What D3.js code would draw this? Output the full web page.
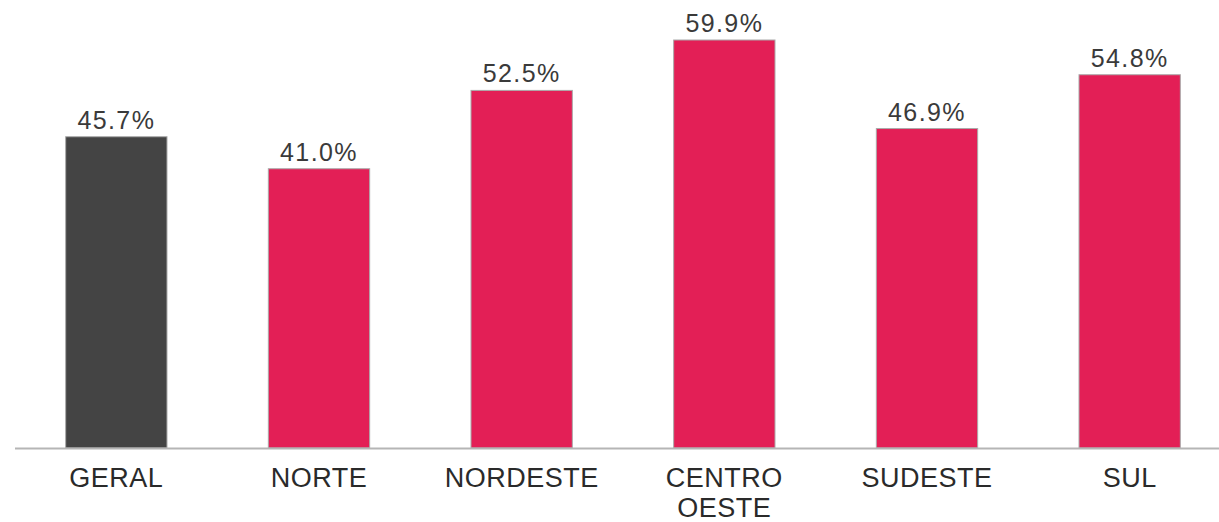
<!DOCTYPE html>
<html>
<head>
<meta charset="utf-8">
<script src="https://cdn.jsdelivr.net/npm/d3@7"></script>
<style>
  body { margin: 0; background: #fff; }
  text { font-family: "Liberation Sans", Arial, sans-serif; }
</style>
</head>
<body>
<svg id="chart" width="1219" height="522"></svg>
<script>
// regiões e percentuais
var regioes = ["GERAL", "NORTE", "NORDESTE", "CENTRO OESTE", "SUDESTE", "SUL"];
var valores = [45.7, 41.0, 52.5, 59.9, 46.9, 54.8];
var cores = ["#444444", "#e31f56", "#e31f56", "#e31f56", "#e31f56", "#e31f56"];

var svg = d3.select("#chart");
var base = 448;

var x = d3.scaleBand()
    .domain(regioes)
    .range([15, 1231])
    .paddingInner(0.5)
    .paddingOuter(0.25);

var y = d3.scaleLinear()
    .domain([0, 59.9])
    .range([base, 40]);

var dados = regioes.map(function (r, i) {
    return { nome: r, valor: valores[i], cor: cores[i] };
});

svg.selectAll("rect.barra")
    .data(dados)
    .enter().append("rect")
    .attr("class", "barra")
    .attr("x", function (d) { return x(d.nome); })
    .attr("y", function (d) { return y(d.valor); })
    .attr("width", x.bandwidth())
    .attr("height", function (d) { return base - y(d.valor); })
    .attr("fill", function (d) { return d.cor; })
    .attr("stroke", "#aaa")
    .attr("stroke-width", 1);

// linha de base
svg.append("line")
    .attr("x1", 15).attr("x2", 1219)
    .attr("y1", base + 0.5).attr("y2", base + 0.5)
    .attr("stroke", "#b5b5b5")
    .attr("stroke-width", 2);

// rótulos de valor
svg.selectAll("text.valor")
    .data(dados)
    .enter().append("text")
    .attr("class", "valor")
    .attr("x", function (d) { return x(d.nome) + x.bandwidth() / 2; })
    .attr("y", function (d) { return y(d.valor) - 8; })
    .attr("text-anchor", "middle")
    .attr("font-size", 25)
    .attr("letter-spacing", 1.4)
    .attr("fill", "#3a3a3a")
    .text(function (d) { return d.valor.toFixed(1) + "%"; });

// rótulos de categoria (quebra em duas linhas)
var cat = svg.selectAll("text.cat")
    .data(dados)
    .enter().append("text")
    .attr("class", "cat")
    .attr("text-anchor", "middle")
    .attr("font-size", 27)
    .attr("letter-spacing", 0.5)
    .attr("fill", "#2a2a2a");

cat.each(function (d) {
    var t = d3.select(this);
    var cx = x(d.nome) + x.bandwidth() / 2;
    d.nome.split(" ").forEach(function (w, i) {
        t.append("tspan")
            .attr("x", cx)
            .attr("y", 487 + i * 30)
            .text(w);
    });
});
</script>
</body>
</html>
